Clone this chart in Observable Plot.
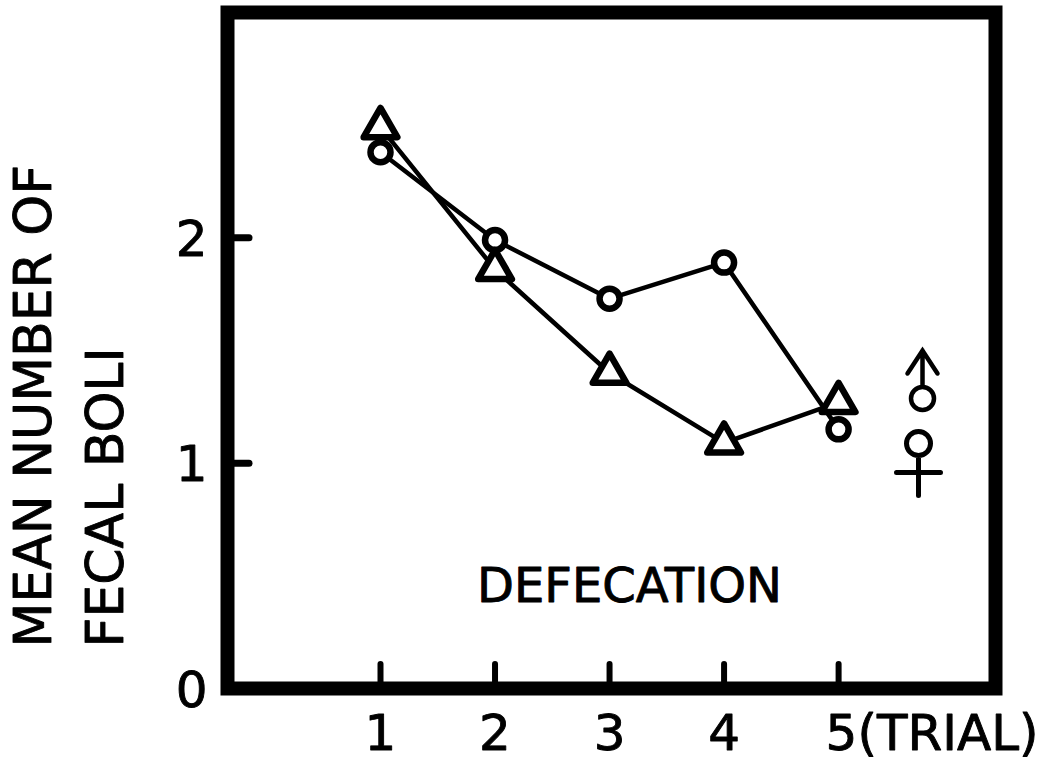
<!DOCTYPE html>
<html>
<head>
<meta charset="utf-8">
<script src="https://cdn.jsdelivr.net/npm/d3@7"></script>
<script src="https://cdn.jsdelivr.net/npm/@observablehq/plot@0.6"></script>
<style>
  html, body { margin: 0; padding: 0; background: #fff; }
  svg { font-family: "DejaVu Sans", sans-serif; overflow: visible; }
</style>
</head>
<body>
<div id="chart"></div>
<script>
const trials = [1, 2, 3, 4, 5];
const circleSeries = [2.38, 1.99, 1.73, 1.89, 1.15];   // circles
const triangleSeries = [2.49, 1.86, 1.40, 1.09, 1.27]; // triangles
const yTickValues = [0, 1, 2];
const yTickMarks = [1, 2];
const xTickValues = [1, 2, 3, 4, 5];
const xLabelsPlain = ["1", "2", "3", "4"];
const xLabelLast = "5(TRIAL)";
const yLabelLine1 = "MEAN NUMBER OF";
const yLabelLine2 = "FECAL BOLI";
const panelTitle = "DEFECATION";

const circles = trials.map((t, i) => ({trial: t, value: circleSeries[i]}));
const triangles = trials.map((t, i) => ({trial: t, value: triangleSeries[i]}));

// custom legend glyphs (male / female signs), scaled by the dot radius
const maleGlyph = {
  draw(ctx, size) {
    const k = Math.sqrt(size / Math.PI) / 10;
    const r = 11.5 * k;
    ctx.moveTo(r, 0);
    ctx.arc(0, 0, r, 0, 2 * Math.PI);
    ctx.moveTo(0, -r);
    ctx.lineTo(0, -48 * k);
    ctx.moveTo(-15 * k, -25 * k);
    ctx.lineTo(0, -48 * k);
    ctx.lineTo(15 * k, -25 * k);
  }
};
const femaleGlyph = {
  draw(ctx, size) {
    const k = Math.sqrt(size / Math.PI) / 10;
    const r = 12 * k;
    ctx.moveTo(r, 0);
    ctx.arc(0, 0, r, 0, 2 * Math.PI);
    ctx.moveTo(0, r);
    ctx.lineTo(0, 52 * k);
    ctx.moveTo(-22 * k, 29 * k);
    ctx.lineTo(22 * k, 29 * k);
  }
};

const T = {fontSize: 50, lineAnchor: "middle", stroke: "#000", strokeWidth: 0.9, fill: "#000"};

const chart = Plot.plot({
  width: 1064,
  height: 775,
  marginLeft: 227,
  marginRight: 69,
  marginTop: 12,
  marginBottom: 87,
  style: {background: "#fff", color: "#000"},
  x: {domain: [-0.336, 6.37], axis: null},
  y: {domain: [0, 3.0], axis: null},
  marks: [
    // tick marks (inward)
    Plot.axisY({ticks: yTickMarks, tickSize: -22, tickFormat: () => "", label: null, strokeWidth: 7, strokeLinecap: "round"}),
    Plot.axisX({ticks: xTickValues, tickSize: -24, tickFormat: () => "", label: null, strokeWidth: 6, strokeLinecap: "round"}),
    Plot.frame({stroke: "#000", strokeWidth: 14}),
    // y tick labels
    Plot.text(yTickValues, {...T, y: d => d, frameAnchor: "left", textAnchor: "end", dx: -20, dy: 2, text: d => String(d)}),
    // x tick labels
    Plot.text(xTickValues.slice(0, 4), {...T, x: d => d, frameAnchor: "bottom", dy: 45, text: (d, i) => xLabelsPlain[i]}),
    Plot.text([xTickValues[4]], {...T, x: d => d, frameAnchor: "bottom", dy: 45, dx: -13, textAnchor: "start", text: () => xLabelLast}),
    // y label
    Plot.text([yLabelLine1], {...T, fontSize: 52, frameAnchor: "bottom-left", text: d => d, rotate: -90, textAnchor: "start", dx: -193, dy: -41}),
    Plot.text([yLabelLine2], {...T, fontSize: 52, frameAnchor: "bottom-left", text: d => d, rotate: -90, textAnchor: "start", dx: -121, dy: -41}),
    // panel title
    Plot.text([panelTitle], {...T, fontSize: 48, frameAnchor: "bottom", text: d => d, dx: 18, dy: -102}),
    // series lines
    Plot.line(circles, {x: "trial", y: "value", stroke: "#000", strokeWidth: 4.5}),
    Plot.line(triangles, {x: "trial", y: "value", stroke: "#000", strokeWidth: 4.5}),
    // markers
    Plot.dot(circles, {x: "trial", y: "value", r: 10, stroke: "#000", strokeWidth: 6.5, fill: "#fff"}),
    Plot.dot(triangles, {x: "trial", y: "value", symbol: "triangle", r: 12.5, stroke: "#000", strokeWidth: 6.5, fill: "#fff", strokeLinejoin: "round"}),
    // legend symbols
    Plot.dot([0], {frameAnchor: "top-right", dx: -73, dy: 386, r: 10, symbol: maleGlyph, stroke: "#000", strokeWidth: 4.5, fill: "none", strokeLinecap: "round"}),
    Plot.dot([0], {frameAnchor: "top-right", dx: -77, dy: 431, r: 10, symbol: femaleGlyph, stroke: "#000", strokeWidth: 5, fill: "none", strokeLinecap: "round"})
  ]
});
document.getElementById("chart").appendChild(chart);
</script>
</body>
</html>
